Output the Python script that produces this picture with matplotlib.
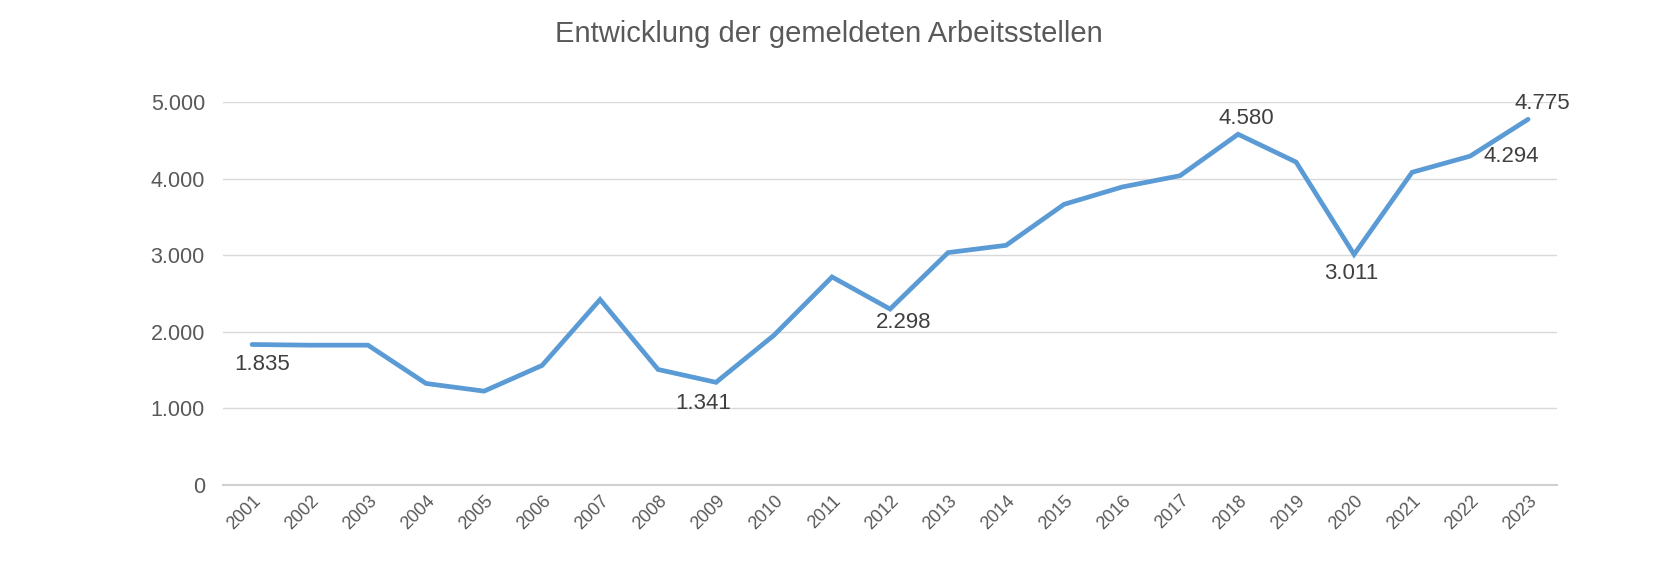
import matplotlib.pyplot as plt
from matplotlib.ticker import FuncFormatter

# Daten
jahre = [str(j) for j in range(2001, 2024)]
arbeitsstellen = [1835, 1826, 1826, 1326, 1226, 1561, 2422, 1509, 1341, 1957, 2717, 2298,
                  3035, 3130, 3665, 3891, 4039, 4580, 4217, 3011, 4083, 4294, 4775]

# Beschriftete Punkte: Index -> Versatz der Beschriftung in Pixel
beschriftungen = {0: (10, -20), 8: (-13, -21), 11: (14, -13), 17: (8, 16),
                  19: (-3, -19), 21: (41, 0), 22: (14, 16)}

plt.rcParams['font.family'] = ['Liberation Sans', 'DejaVu Sans']

fig = plt.figure(figsize=(16.57, 5.64), dpi=100)
ax = fig.add_axes([0.1346, 0.140, 0.9397 - 0.1346, 0.819 - 0.140])

x = list(range(len(jahre)))
ax.plot(x, arbeitsstellen, color='#5B9BD5', linewidth=3.4, solid_capstyle='round',
        solid_joinstyle='miter', zorder=3)

for i, (dx, dy) in beschriftungen.items():
    txt = f"{arbeitsstellen[i]:,}".replace(",", ".")
    ax.annotate(txt, (x[i], arbeitsstellen[i]), xytext=(dx, dy), textcoords='offset pixels',
                ha='center', va='center', fontsize=16, color='#404040')

ax.set_xlim(-0.5, len(jahre) - 0.5)
ax.set_ylim(0, 5000)
ax.set_yticks([0, 1000, 2000, 3000, 4000, 5000])
ax.yaxis.set_major_formatter(FuncFormatter(lambda v, p: f"{int(v):,}".replace(",", ".")))
ax.set_xticks(x)
ax.set_xticklabels(jahre, rotation=45, ha='right', rotation_mode='anchor')

ax.grid(axis='y', color='#D9D9D9', linewidth=1)
ax.axhline(0, color='#D0D0D0', linewidth=1.5, clip_on=False, zorder=1)
ax.set_axisbelow(True)
for s in ax.spines.values():
    s.set_visible(False)
ax.tick_params(axis='y', length=0, pad=13, labelsize=15.5, labelcolor='#595959')
ax.tick_params(axis='x', length=0, pad=5, labelsize=13, labelcolor='#595959')

fig.text(0.5, 1 - 34 / 564, "Entwicklung der gemeldeten Arbeitsstellen", ha='center', va='center',
         fontsize=21, color='#595959')

fig.savefig('out.png', dpi=100)
